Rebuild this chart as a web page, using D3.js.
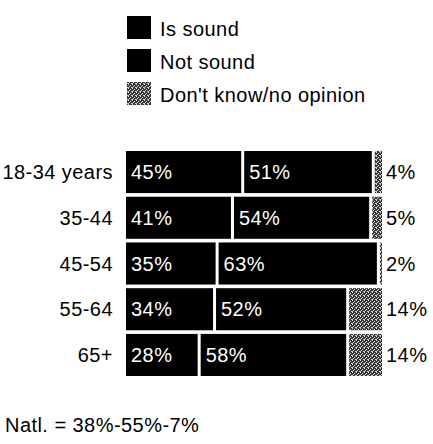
<!DOCTYPE html>
<html>
<head>
<meta charset="utf-8">
<script src="https://cdn.jsdelivr.net/npm/d3@7"></script>
<style>
  html, body { margin: 0; padding: 0; background: #fff; }
  svg { display: block; font-family: "Liberation Sans", Arial, Helvetica, sans-serif; }
</style>
</head>
<body>
<script>
const categories = ["18-34 years", "35-44", "45-54", "55-64", "65+"];
const isSound   = [45, 41, 35, 34, 28];
const notSound  = [51, 54, 63, 52, 58];
const dontKnow  = [4, 5, 2, 14, 14];
const seriesNames = ["Is sound", "Not sound", "Don't know/no opinion"];
const footnote = "Natl. = 38%-55%-7%";

const W = 433, H = 444;
const FS = 20, LS = 0.45;
const svg = d3.select("body").append("svg").attr("width", W).attr("height", H);

const defs = svg.append("defs");
const pat = defs.append("pattern").attr("id", "stipple")
  .attr("width", 4).attr("height", 4).attr("patternUnits", "userSpaceOnUse");
pat.append("rect").attr("width", 4).attr("height", 4).attr("fill", "#383838");
[[0,0],[2,1],[1,2],[3,3],[0,3]].forEach(([a,b]) =>
  pat.append("rect").attr("x", a).attr("y", b).attr("width", 1).attr("height", 1).attr("fill", "#d0d0d0"));

const colors = ["#000", "#000", "url(#stipple)"];

const x = d3.scaleLinear().domain([0, 100]).range([126, 382]);
const y = d3.scaleBand().domain(categories).range([151, 376]).paddingInner(0.08).paddingOuter(0);

const rows = categories.map((c, i) => {
  const vals = [isSound[i], notSound[i], dontKnow[i]];
  let acc = 0;
  return vals.map((v, k) => { const s = acc; acc += v; return { cat: c, k, v, s, e: acc }; });
});

const gap = 3;
const g = svg.append("g").attr("letter-spacing", LS);
rows.forEach(segs => {
  segs.forEach(d => {
    const x0 = x(d.s) + (d.k > 0 ? gap : 0);
    const x1 = x(d.e);
    g.append("rect")
      .attr("x", x0).attr("y", y(d.cat))
      .attr("width", Math.max(1.5, x1 - x0)).attr("height", y.bandwidth())
      .attr("fill", colors[d.k]);
    const cy = y(d.cat) + y.bandwidth() / 2 + 7;
    if (d.k < 2) {
      g.append("text").attr("x", x0 + 5).attr("y", cy)
        .attr("fill", "#fff").attr("font-size", FS).text(d.v + "%");
    } else {
      g.append("text").attr("x", x(100) + 4).attr("y", cy)
        .attr("fill", "#000").attr("font-size", FS).text(d.v + "%");
    }
  });
});

// category labels
svg.append("g").attr("letter-spacing", LS).selectAll("text").data(categories).join("text")
  .attr("x", 113).attr("y", d => y(d) + y.bandwidth() / 2 + 7)
  .attr("text-anchor", "end").attr("font-size", FS).text(d => d);

// legend
const lg = svg.append("g").attr("letter-spacing", LS);
seriesNames.forEach((n, i) => {
  const ty = 16 + i * 33;
  lg.append("rect").attr("x", 127).attr("y", ty).attr("width", 24).attr("height", 23).attr("fill", colors[i]);
  lg.append("text").attr("x", 160).attr("y", ty + 20).attr("font-size", FS).text(n);
});

svg.append("text").attr("letter-spacing", LS).attr("x", 5).attr("y", 432).attr("font-size", FS).text(footnote);
</script>
</body>
</html>
